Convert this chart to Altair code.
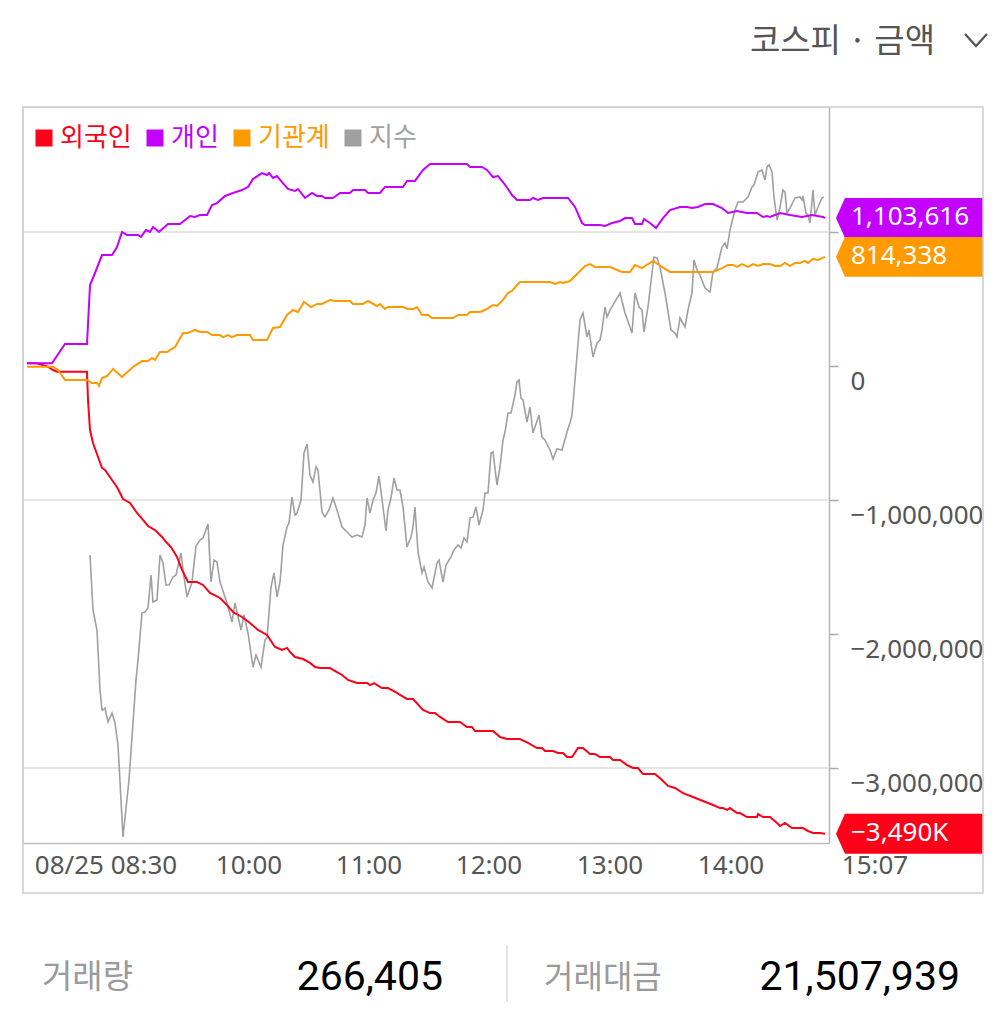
import altair as alt
import pandas as pd

# ---------------- data ----------------
series_names = ["외국인", "개인", "기관계", "지수"]
series_colors = ["#ff0019", "#c400ff", "#ff9a00", "#a0a0a0"]

# x: minutes after 09:00 on the chart's time axis (pre-open is negative)
# investor values: cumulative net buying, in thousands
t_foreign = [-51, -46, -40.5, -38, -36, -21, -20.5, -19.5, -18, -13.5,
             -12, -8.5, -6, -3, 0.5, 4, 7, 9.5, 13, 16.5,
             19, 21, 24, 26.5, 29.5, 34, 37, 40.5, 45.5, 49,
             52, 56.5, 60.5, 64.5, 69, 73, 76.5, 79, 80.5, 83,
             87, 90.5, 93, 95.5, 100.5, 104, 106.5, 109.5, 114, 119,
             120.5, 122.5, 126.5, 129.5, 134, 135.5, 139, 142, 147, 150.5,
             153, 155.5, 159.5, 165.5, 169, 171.5, 173, 182, 185.5, 189,
             195.5, 199.5, 204, 206.5, 208, 212, 214.5, 217, 219, 221.5,
             224.5, 227, 230.5, 233, 235.5, 240.5, 242, 245.5, 249, 252,
             254.5, 257, 263, 266.5, 269.5, 273, 277, 282, 287, 292,
             295.5, 297, 299, 300.5, 304, 305.5, 309, 314, 314.5, 317,
             320.5, 324, 325.5, 328, 331.5, 337, 339.5, 342, 345.5, 348]
v_foreign_k = [20, 20, -5, -30, -43, -43, -254, -478, -575, -761,
               -776, -851, -903, -993, -1022, -1097, -1149, -1194, -1224, -1276,
               -1321, -1351, -1425, -1522, -1612, -1612, -1634, -1694, -1731, -1784,
               -1836, -1873, -1918, -1970, -2007, -2097, -2119, -2104, -2134, -2172,
               -2187, -2216, -2246, -2254, -2254, -2284, -2306, -2343, -2366, -2366,
               -2381, -2366, -2403, -2403, -2440, -2455, -2485, -2485, -2567, -2590,
               -2590, -2619, -2657, -2657, -2694, -2694, -2724, -2724, -2769, -2784,
               -2784, -2813, -2851, -2851, -2873, -2873, -2888, -2888, -2918, -2918,
               -2851, -2851, -2896, -2896, -2918, -2918, -2940, -2940, -2978, -3000,
               -3000, -3045, -3045, -3090, -3134, -3149, -3187, -3216, -3246, -3276,
               -3299, -3299, -3313, -3299, -3336, -3336, -3366, -3366, -3343, -3366,
               -3366, -3410, -3433, -3410, -3448, -3448, -3470, -3485, -3485, -3490]

t_indiv = [-51, -38.5, -32, -21, -19.5, -17, -13.5, -8.5, -6, -3.5,
           -1, 4.5, 6, 8.5, 10.5, 12, 15, 19.5, 25.5, 30.5,
           33, 35.5, 39, 41.5, 44, 48, 52, 56.5, 59.5, 62,
           66.5, 69, 70, 72, 74, 76.5, 79.5, 83, 84.5, 88,
           91.5, 94, 96.5, 98, 102, 105.5, 110.5, 112, 118, 119.5,
           125.5, 128, 137, 139, 143, 147, 150.5, 169, 170.5, 176.5,
           179, 182, 184.5, 187, 189.5, 191.5, 194, 200.5, 202, 204.5,
           207, 219.5, 223, 226.5, 228, 235.5, 238, 241.5, 245.5, 248,
           251.5, 253, 256.5, 257.5, 260.5, 263.5, 267, 270.5, 275.5, 279,
           281.5, 284.5, 288, 292, 296.5, 299.5, 304, 309, 314, 317,
           319, 320.5, 325.5, 330.5, 336.5, 341.5, 347, 348]
v_indiv_k = [20, 20, 164, 164, 604, 694, 828, 828, 888, 1000,
             978, 978, 963, 1015, 1000, 1037, 1000, 1060, 1060, 1119,
             1112, 1127, 1127, 1201, 1216, 1269, 1291, 1313, 1336, 1396,
             1440, 1425, 1440, 1403, 1418, 1373, 1321, 1306, 1321, 1254,
             1291, 1269, 1269, 1254, 1254, 1291, 1291, 1313, 1313, 1291,
             1291, 1336, 1336, 1381, 1381, 1463, 1507, 1507, 1485, 1485,
             1463, 1410, 1418, 1373, 1321, 1276, 1239, 1239, 1254, 1239,
             1254, 1254, 1187, 1067, 1052, 1052, 1045, 1067, 1082, 1104,
             1104, 1060, 1060, 1097, 1067, 1030, 1104, 1164, 1187, 1187,
             1179, 1187, 1209, 1209, 1179, 1142, 1157, 1142, 1142, 1112,
             1119, 1112, 1142, 1127, 1112, 1127, 1112, 1103.616]

t_inst = [-51, -38, -35.5, -32, -21, -18.5, -16, -15, -13.5, -11,
          -8, -3.5, 2, 6.5, 9.5, 11.5, 13, 15.5, 19, 23,
          27, 29.5, 33, 35.5, 39, 41.5, 45.5, 47, 49.5, 51.5,
          54, 60.5, 62, 69, 72, 75.5, 79, 82, 84.5, 87.5,
          91, 94, 96.5, 100.5, 103, 110.5, 112, 117, 119.5, 124,
          125.5, 128, 129.5, 137, 139.5, 142, 144, 146.5, 149.5, 151.5,
          162, 164.5, 169, 170.5, 175.5, 178, 182, 184, 187, 189.5,
          191.5, 194.5, 195.5, 210.5, 213, 215.5, 217, 220.5, 224.5, 228,
          230.5, 233, 240.5, 246.5, 250.5, 253, 256.5, 259.5, 262, 266.5,
          270.5, 292, 296.5, 299.5, 302, 304, 306.5, 309.5, 312, 314.5,
          317, 320.5, 323, 325.5, 328, 330.5, 333, 335.5, 338, 339.5,
          342, 344.5, 348]
v_inst_k = [-5, -5, -30, -104, -104, -127, -127, -149, -90, -75,
            -22, -82, -7, 37, 37, 60, 45, 104, 104, 142,
            246, 246, 269, 254, 254, 231, 231, 216, 231, 216,
            231, 231, 194, 194, 284, 291, 381, 418, 403, 478,
            440, 463, 463, 493, 485, 485, 463, 463, 485, 448,
            463, 425, 440, 440, 425, 425, 440, 381, 381, 358,
            358, 381, 381, 403, 403, 418, 455, 448, 493, 545,
            560, 612, 627, 627, 612, 627, 619, 634, 694, 746,
            761, 739, 739, 702, 702, 754, 731, 761, 784, 739,
            702, 702, 731, 754, 754, 739, 761, 739, 761, 746,
            761, 761, 746, 746, 769, 746, 769, 769, 784, 769,
            799, 791, 814.338]

# index (지수) on its own scale
t_index = [-19.5, -18, -16, -14.5, -13.5, -13, -12, -10.5, -8.5, -7,
           -5.5, -3, 0, 3.5, 4.5, 6.5, 8, 9.5, 11, 12,
           14, 15.5, 17, 18.5, 20, 22, 23.5, 26, 27.5, 29,
           31.5, 33.5, 35.5, 37, 39.5, 41, 42.5, 44, 45.5, 49,
           51.5, 53, 56, 57.5, 59.5, 62, 63.5, 66, 68, 69,
           71, 72.5, 74, 75.5, 77, 79, 80, 81.5, 83, 84,
           86, 87.5, 89, 90.5, 92, 93.5, 94.5, 96.5, 98, 100,
           102, 104, 106.5, 109.5, 111.5, 114, 116.5, 118, 119, 120.5,
           122, 123.5, 125, 127, 128.5, 129.5, 131, 132.5, 134, 135.5,
           137, 139, 141, 142, 143, 144.5, 146.5, 147.5, 149.5, 151.5,
           154, 155, 157, 158.5, 161, 162.5, 164.5, 166, 167.5, 169,
           170.5, 172, 173.5, 175, 177, 178, 179.5, 181, 182, 184,
           185.5, 187, 188, 189.5, 191, 193, 194, 195, 196, 197,
           199, 200.5, 202, 205, 206.5, 208, 210.5, 212, 214, 216.5,
           217.5, 219, 220.5, 221.5, 223, 225.5, 227, 229, 230, 232,
           234, 235.5, 236.5, 238, 239, 240.5, 245.5, 248, 251.5, 253,
           255, 256.5, 257.5, 259.5, 261.5, 262.5, 264, 265.5, 268, 271,
           273, 274, 275.5, 278, 279.5, 281.5, 282.5, 284, 285.5, 288,
           290.5, 292, 294, 296.5, 298, 299, 300.5, 303, 304.5, 307,
           309.5, 311.5, 312.5, 314.5, 316.5, 318, 319, 320, 321.5, 322.5,
           324, 325, 327, 328, 329, 330.5, 333, 335.5, 336.5, 337,
           338.5, 339.5, 340.5, 342, 343, 344.5, 346.5, 347.5]
v_index = [2514.40, 2511.65, 2510.65, 2507.65, 2506.65, 2506.65, 2506.75, 2506.05, 2506.50, 2506.00,
           2504.90, 2500.30, 2503.15, 2508.15, 2509.15, 2511.50, 2511.55, 2511.75, 2513.40, 2512.05,
           2512.15, 2514.40, 2514.00, 2512.90, 2512.90, 2513.30, 2513.40, 2514.50, 2513.30, 2512.30,
           2513.05, 2514.85, 2515.15, 2515.25, 2515.95, 2513.05, 2514.15, 2514.05, 2513.05, 2512.00,
           2511.05, 2512.00, 2510.65, 2511.40, 2510.50, 2508.80, 2509.40, 2508.80, 2510.15, 2510.25,
           2512.80, 2513.50, 2512.30, 2513.05, 2514.90, 2515.80, 2516.00, 2517.30, 2516.40, 2516.50,
           2517.15, 2519.50, 2519.95, 2518.40, 2518.05, 2518.80, 2518.65, 2516.55, 2516.30, 2516.65,
           2517.25, 2516.65, 2515.80, 2515.50, 2515.30, 2515.40, 2515.30, 2515.90, 2517.25, 2516.50,
           2517.15, 2517.50, 2518.35, 2516.80, 2515.60, 2516.65, 2517.25, 2518.25, 2517.65, 2517.65,
           2516.80, 2514.80, 2515.30, 2515.80, 2516.80, 2514.55, 2513.50, 2513.80, 2513.05, 2512.75,
           2514.00, 2514.15, 2513.05, 2513.90, 2514.30, 2514.65, 2514.90, 2514.75, 2515.25, 2515.05,
           2516.25, 2516.30, 2516.80, 2515.90, 2516.65, 2517.50, 2517.50, 2519.50, 2519.55, 2517.90,
           2518.80, 2520.15, 2520.55, 2521.50, 2521.50, 2522.40, 2523.05, 2523.15, 2522.25, 2522.15,
           2521.05, 2521.80, 2520.50, 2521.40, 2520.30, 2520.15, 2519.65, 2519.20, 2519.70, 2519.65,
           2520.00, 2520.55, 2521.00, 2521.40, 2523.15, 2526.15, 2526.50, 2525.30, 2525.65, 2524.30,
           2525.00, 2525.15, 2525.65, 2526.80, 2526.30, 2526.65, 2527.50, 2526.50, 2525.50, 2527.50,
           2526.80, 2526.65, 2525.55, 2526.80, 2528.50, 2529.30, 2529.25, 2528.80, 2527.50, 2525.65,
           2525.50, 2525.30, 2526.25, 2525.80, 2526.65, 2527.50, 2529.15, 2528.65, 2528.40, 2527.75,
           2527.55, 2528.55, 2528.75, 2529.80, 2530.00, 2529.70, 2530.65, 2531.65, 2532.05, 2532.05,
           2532.30, 2532.80, 2532.90, 2533.55, 2533.65, 2533.15, 2533.80, 2533.90, 2533.55, 2532.30,
           2531.15, 2531.50, 2532.65, 2532.55, 2531.50, 2531.75, 2532.25, 2532.30, 2532.15, 2532.35,
           2531.50, 2531.40, 2531.00, 2532.65, 2531.40, 2531.80, 2532.25, 2532.30]

tick_t = [-11.5, 60, 120, 180, 240.5, 301, 373]
tick_labels = ["08/25 08:30", "10:00", "11:00", "12:00", "13:00", "14:00", "15:07"]
y_tick_values = [1000000, 0, -1000000, -2000000, -3000000]
grid_values = [1000000, -1000000, -3000000]

header_text = "코스피 · 금액"
stat_labels = ["거래량", "거래대금"]
volume = 266405
amount = 21507939

# ---------------- frames ----------------
frames = []
for name, ts, vs in [("외국인", t_foreign, v_foreign_k),
                     ("개인", t_indiv, v_indiv_k),
                     ("기관계", t_inst, v_inst_k)]:
    frames.append(pd.DataFrame({"t": ts, "v": [x * 1000 for x in vs], "series": name}))
df_inv = pd.concat(frames, ignore_index=True)
df_idx = pd.DataFrame({"t": t_index, "idx": v_index, "series": "지수"})


def badge_text(v):
    s = f"{abs(v):,.0f}"
    if len(s) + (1 if v < 0 else 0) > 9:
        s = f"{abs(v) / 1000:,.0f}K"
    return ("−" if v < 0 else "") + s


badge_rows = []
for name in ["개인", "기관계", "외국인"]:
    last = df_inv[df_inv.series == name].iloc[-1]
    badge_rows.append({"series": name, "v": last.v, "label": badge_text(last.v),
                       "color": series_colors[series_names.index(name)]})
df_badge = pd.DataFrame(badge_rows)
df_ticks = pd.DataFrame({"t": tick_t, "label": tick_labels})
one = pd.DataFrame({"a": [0]})

# ---------------- scales / encodings ----------------
xscale = alt.Scale(domain=[-53, 350], nice=False, zero=False)
yscale = alt.Scale(domain=[-3559701, 1932836], nice=False, zero=False)
iscale = alt.Scale(domain=[2500, 2536.8], nice=False, zero=False)

xaxis = alt.Axis(labels=False, ticks=False, grid=False, domainColor="#bdbdbd",
                 domainWidth=1.5, title=None)
X = alt.X("t:Q", scale=xscale, axis=xaxis)

yaxis = alt.Axis(orient="right", values=y_tick_values, format=",d",
                 labelExpr="datum.value == 1000000 ? '' : datum.label",
                 grid=False, domainColor="#b5b5b5", domainWidth=1.5,
                 tickColor="#a3abbd", tickSize=9, tickWidth=1.5,
                 labelFont="Noto Sans", labelFontSize=26, labelColor="#555555",
                 labelAlign="left", labelBaseline="alphabetic", labelOffset=23,
                 labelPadding=12, labelFlush=False, labelOverlap=False,
                 labelBound=False, title=None)
Y = alt.Y("v:Q", scale=yscale, axis=yaxis)

color_expr = " : ".join(f"datum.value == '{n}' ? '{c}'"
                        for n, c in zip(series_names[:-1], series_colors[:-1])) + f" : '{series_colors[-1]}'"
legend = alt.Legend(orient="none", legendX=8, legendY=18, direction="horizontal",
                    title=None, symbolType="square", symbolSize=289, symbolStrokeWidth=0,
                    symbolFillColor={"expr": color_expr}, labelColor={"expr": color_expr},
                    labelFont="Noto Sans CJK KR", labelFontSize=26, labelOffset=3,
                    columnPadding=10, padding=0, symbolOffset=0, labelBaseline="middle")
COLOR = alt.Color("series:N", scale=alt.Scale(domain=series_names, range=series_colors),
                  legend=legend)

# ---------------- layers ----------------
grid = alt.Chart(pd.DataFrame({"v": grid_values})).mark_rule(
    color="#e6e6e6", strokeWidth=2).encode(y=alt.Y("v:Q", scale=yscale, axis=None))

idx_line = alt.Chart(df_idx).mark_line(strokeWidth=1.6).encode(
    x=X, y=alt.Y("idx:Q", scale=iscale, axis=None), color=COLOR)

inv_lines = alt.Chart(df_inv).mark_line(strokeWidth=2).encode(x=X, y=Y, color=COLOR)

BADGE = "M -1 0 L -0.878 -0.272 L 1 -0.272 L 1 0.272 L -0.878 0.272 Z"
badges = alt.Chart(df_badge).mark_point(shape=BADGE, size=21609, filled=True,
                                        opacity=1, strokeWidth=0).encode(
    x=alt.value(886.5), y=Y, fill=alt.Fill("color:N", scale=None))
badge_labels = alt.Chart(df_badge).mark_text(
    align="left", baseline="alphabetic", dy=7, font="Noto Sans", fontSize=26,
    color="white").encode(x=alt.value(828), y=Y, text="label:N")

inv_group = alt.layer(inv_lines, badges, badge_labels)

xlabels = alt.Chart(df_ticks).mark_text(
    font="Noto Sans", fontSize=26, color="#555555", baseline="alphabetic",
    align="center").encode(x=X, y=alt.value(767), text="label:N")

box = alt.Chart(one).mark_rect(fill="white", fillOpacity=0, stroke="#cccccc",
                               strokeWidth=1.5).encode(
    x=alt.value(0), x2=alt.value(960), y=alt.value(0), y2=alt.value(786))

header = alt.Chart(one).mark_text(
    align="right", baseline="alphabetic", font="Noto Sans CJK KR", fontSize=33,
    color="#555555").encode(x=alt.value(912), y=alt.value(-55), text=alt.value(header_text))

chevron = alt.Chart(one).mark_point(
    shape="M -1 -0.55 L 0 0.55 L 1 -0.55", size=484, filled=False, color="#555555",
    strokeWidth=2.2, opacity=1).encode(x=alt.value(953), y=alt.value(-67))

stat_label1 = alt.Chart(one).mark_text(
    align="left", baseline="alphabetic", font="Noto Sans CJK KR", fontSize=33,
    color="#9a9a9a").encode(x=alt.value(19), y=alt.value(881), text=alt.value(stat_labels[0]))
stat_value1 = alt.Chart(one).mark_text(
    align="right", baseline="alphabetic", font="Roboto", fontSize=41,
    color="#000000").encode(x=alt.value(420), y=alt.value(883), text=alt.value(f"{volume:,}"))
stat_label2 = alt.Chart(one).mark_text(
    align="left", baseline="alphabetic", font="Noto Sans CJK KR", fontSize=32,
    color="#9a9a9a").encode(x=alt.value(521), y=alt.value(881), text=alt.value(stat_labels[1]))
stat_value2 = alt.Chart(one).mark_text(
    align="right", baseline="alphabetic", font="Roboto", fontSize=41,
    color="#000000").encode(x=alt.value(937), y=alt.value(883), text=alt.value(f"{amount:,}"))
divider = alt.Chart(one).mark_rule(color="#e3e3e3", strokeWidth=2).encode(
    x=alt.value(484), y=alt.value(838), y2=alt.value(895))

chart = alt.layer(
    grid, idx_line, inv_group, xlabels, box, header, chevron,
    stat_label1, stat_value1, stat_label2, stat_value2, divider
).resolve_scale(y="independent").properties(
    width=806, height=736,
    padding={"left": 15, "top": 99, "right": 165, "bottom": 162},
    autosize=alt.AutoSizeParams(type="none"),
).configure_view(stroke=None).configure(background="white")

chart.save("out.html", embed_options={"renderer": "svg", "actions": False})
